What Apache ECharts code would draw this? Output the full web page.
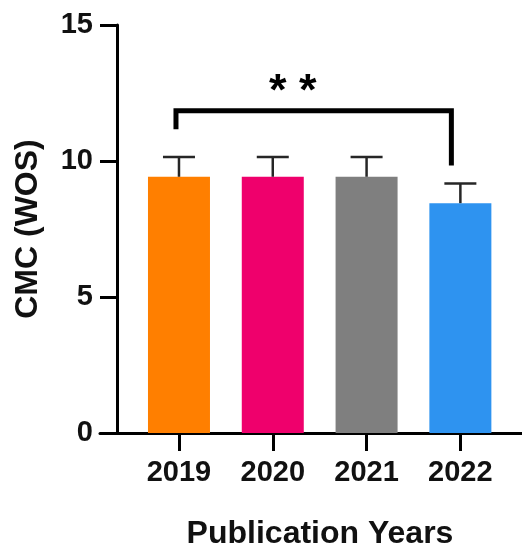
<!DOCTYPE html>
<html>
<head>
<meta charset="utf-8">
<script src="https://cdn.jsdelivr.net/npm/echarts@6.0.0/dist/echarts.min.js"></script>
<style>
  html, body { margin: 0; padding: 0; background: #ffffff; }
  #chart { width: 522px; height: 545px; }
</style>
</head>
<body>
<div id="chart"></div>
<script>
// Publication years and CMC (WOS) means with their upper error (SD)
const years = ['2019', '2020', '2021', '2022'];
const means = [9.42, 9.42, 9.42, 8.45];
const errors = [0.73, 0.73, 0.73, 0.72];
const barColors = ['#FF7F00', '#EF006C', '#7F7F7F', '#2E93F0'];
const yTicks = [0, 5, 10, 15];

// Significance bracket between 2019 and 2022
const sigPair = [0, 3];
const sigLevel = 11.85;
const sigLegEnds = [11.17, 9.83];
const sigText = '* *';

const FONT = '"Liberation Sans", Arial, sans-serif';
const positions = years.map((_, i) => i);

const chart = echarts.init(document.getElementById('chart'), null, { renderer: 'canvas' });

const option = {
  backgroundColor: '#ffffff',
  animation: false,
  grid: { left: 100, right: 0, top: 25, bottom: 112, outerBoundsMode: 'none', containLabel: false },
  xAxis: {
    type: 'value',
    min: -0.842,
    max: 3.657,
    splitLine: { show: false },
    axisLine: { show: true, onZero: false, lineStyle: { color: '#000', width: 3 } },
    axisTick: { show: true, customValues: positions, length: 18, lineStyle: { color: '#000', width: 3 } },
    axisLabel: {
      customValues: positions,
      formatter: v => years[Math.round(v)],
      margin: 25,
      color: '#111',
      fontFamily: FONT,
      fontWeight: 'bold',
      fontSize: 29
    },
    name: 'Publication Years',
    nameLocation: 'middle',
    nameGap: 85,
    nameTextStyle: {
      color: '#111', fontFamily: FONT, fontWeight: 'bold', fontSize: 32,
      padding: [0, 0, 0, 18]
    }
  },
  yAxis: {
    type: 'value',
    min: 0,
    max: 15,
    interval: 5,
    offset: -17,
    splitLine: { show: false },
    axisLine: { show: true, onZero: false, lineStyle: { color: '#000', width: 3 } },
    axisTick: { show: true, length: 17, lineStyle: { color: '#000', width: 3 } },
    axisLabel: {
      margin: 24,
      color: '#111',
      fontFamily: FONT,
      fontWeight: 'bold',
      fontSize: 29,
      formatter: v => (yTicks.indexOf(v) >= 0 ? String(v) : '')
    },
    name: 'CMC (WOS)',
    nameLocation: 'middle',
    nameRotate: 90,
    nameGap: 73,
    nameTextStyle: { color: '#111', fontFamily: FONT, fontWeight: 'bold', fontSize: 32 }
  },
  series: [
    {
      type: 'bar',
      barWidth: 62,
      data: means.map((m, i) => ({ value: [i, m], itemStyle: { color: barColors[i] } })),
      z: 2
    },
    {
      // upper error bars
      type: 'custom',
      z: 3,
      data: means.map((m, i) => [i, m, m + errors[i]]),
      renderItem: (params, api) => {
        const base = api.coord([api.value(0), api.value(1)]);
        const top = api.coord([api.value(0), api.value(2)]);
        const half = 16;
        const style = { stroke: '#262626', lineWidth: 2.5, fill: null };
        return {
          type: 'group',
          children: [
            { type: 'line', shape: { x1: base[0], y1: base[1], x2: top[0], y2: top[1] }, style },
            { type: 'line', shape: { x1: top[0] - half, y1: top[1], x2: top[0] + half, y2: top[1] }, style }
          ]
        };
      }
    },
    {
      // significance bracket with its stars
      type: 'custom',
      z: 4,
      data: [[sigPair[0], sigPair[1], sigLevel, sigLegEnds[0], sigLegEnds[1]]],
      renderItem: (params, api) => {
        const a = api.coord([api.value(0), api.value(3)]);
        const b = api.coord([api.value(1), api.value(4)]);
        const topA = api.coord([api.value(0), api.value(2)]);
        const x0 = a[0] - 3;
        const x1 = b[0] - 9;
        const yTop = topA[1];
        return {
          type: 'group',
          children: [
            {
              type: 'polyline',
              shape: { points: [[x0, a[1]], [x0, yTop], [x1, yTop], [x1, b[1]]] },
              style: { stroke: '#000', lineWidth: 5, fill: null, lineJoin: 'miter', lineCap: 'butt' }
            },
            {
              type: 'text',
              x: (x0 + x1) / 2 - 21,
              y: yTop - 18,
              style: {
                text: sigText,
                fill: '#000',
                font: 'bold 45px ' + FONT,
                textAlign: 'center',
                textVerticalAlign: 'middle'
              }
            }
          ]
        };
      }
    }
  ]
};

chart.setOption(option);
</script>
</body>
</html>
